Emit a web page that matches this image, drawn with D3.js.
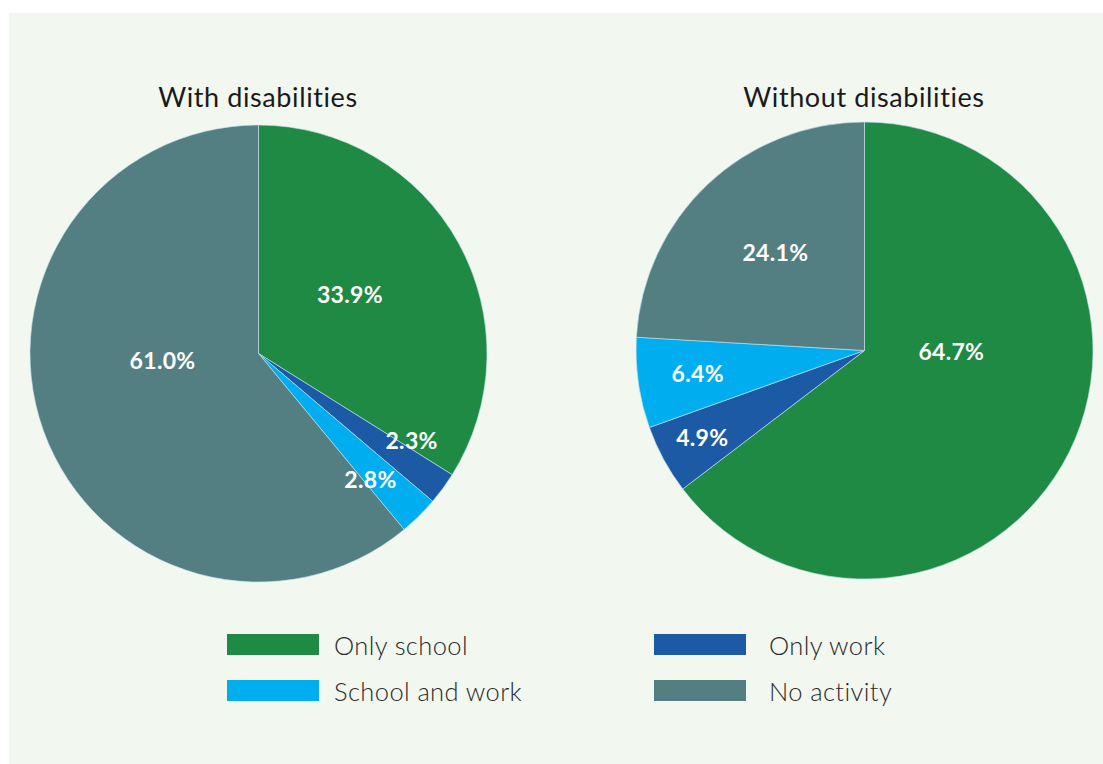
<!DOCTYPE html>
<html>
<head>
<meta charset="utf-8">
<script src="https://cdn.jsdelivr.net/npm/d3@7"></script>
<style>
  html, body { margin: 0; padding: 0; background: #ffffff; }
  svg { display: block; }
  text { font-variant-ligatures: none; }
</style>
</head>
<body>
<svg id="chart" width="1103" height="764"></svg>
<script>
// Activity categories, in drawing order (clockwise from 12 o'clock)
const categories = ["Only school", "Only work", "School and work", "No activity"];
const colors = ["#1e8a44", "#1c5aa6", "#00aeef", "#537f82"];

// Shares (%) for each group
const withDisabilities = [33.9, 2.3, 2.8, 61.0];
const withoutDisabilities = [64.7, 4.9, 6.4, 24.1];
const groupTitles = ["With disabilities", "Without disabilities"];

// Label anchors, as fractions of the radius from the pie centre
const labelSpotsWith = [[0.40, -0.26], [0.67, 0.38], [0.49, 0.55], [-0.42, 0.03]];
const labelSpotsWithout = [[0.38, 0.00], [-0.71, 0.38], [-0.73, 0.10], [-0.39, -0.43]];

const legendOrder = [[0, 2], [1, 3]]; // columns of category indices

const svg = d3.select("#chart");
const W = 1103, H = 764;

svg.append("rect")
  .attr("x", 9).attr("y", 13)
  .attr("width", W - 9).attr("height", H - 13)
  .attr("fill", "#f2f7f0");

const radius = 228.5;
const color = d3.scaleOrdinal().domain(categories).range(colors);
const pie = d3.pie().sort(null).value(d => d.value);
const arc = d3.arc().innerRadius(0).outerRadius(radius);

const groups = [
  { title: groupTitles[0], values: withDisabilities, spots: labelSpotsWith, cx: 258.5, cy: 353.5, tx: 258 },
  { title: groupTitles[1], values: withoutDisabilities, spots: labelSpotsWithout, cx: 864.5, cy: 350.5, tx: 864 }
];

groups.forEach(gr => {
  const data = categories.map((c, i) => ({ cat: c, value: gr.values[i], spot: gr.spots[i] }));
  const g = svg.append("g").attr("transform", `translate(${gr.cx},${gr.cy})`);

  g.selectAll("path.slice")
    .data(pie(data))
    .join("path")
    .attr("class", "slice")
    .attr("d", arc)
    .attr("fill", d => color(d.data.cat))
    .attr("stroke", "#c8e6f2")
    .attr("stroke-width", 0.6);

  g.selectAll("text.val")
    .data(pie(data))
    .join("text")
    .attr("class", "val")
    .attr("x", d => d.data.spot[0] * radius)
    .attr("y", d => d.data.spot[1] * radius)
    .attr("text-anchor", "middle")
    .attr("dominant-baseline", "central")
    .attr("fill", "#ffffff")
    .attr("font-family", "Lato, 'Open Sans', sans-serif")
    .attr("font-weight", "bold")
    .attr("font-size", 23)
    .attr("letter-spacing", 0.3)
    .text(d => d.data.value.toFixed(1) + "%");

  svg.append("text")
    .attr("x", gr.tx)
    .attr("y", 107)
    .attr("text-anchor", "middle")
    .attr("fill", "#1a1a1a")
    .attr("font-family", "Lato, 'Open Sans', sans-serif")
    .attr("font-size", 27)
    .attr("letter-spacing", 0.6)
    .text(gr.title);
});

// Legend
const legendCols = [{ x: 227, gap: 107 }, { x: 654, gap: 115 }];
const legendRows = [645, 691];
legendOrder.forEach((col, ci) => {
  col.forEach((idx, ri) => {
    const lg = svg.append("g")
      .attr("transform", `translate(${legendCols[ci].x},${legendRows[ri]})`);
    lg.append("rect")
      .attr("x", 0).attr("y", -11)
      .attr("width", 92).attr("height", 21)
      .attr("fill", color(categories[idx]));
    lg.append("text")
      .attr("x", legendCols[ci].gap)
      .attr("y", 0)
      .attr("dominant-baseline", "central")
      .attr("fill", "#2a2a2a")
      .attr("font-family", "Lato, 'Open Sans', sans-serif")
      .attr("font-weight", 300)
      .attr("font-size", 25.5)
      .attr("letter-spacing", 0.4)
      .text(categories[idx]);
  });
});
</script>
</body>
</html>
